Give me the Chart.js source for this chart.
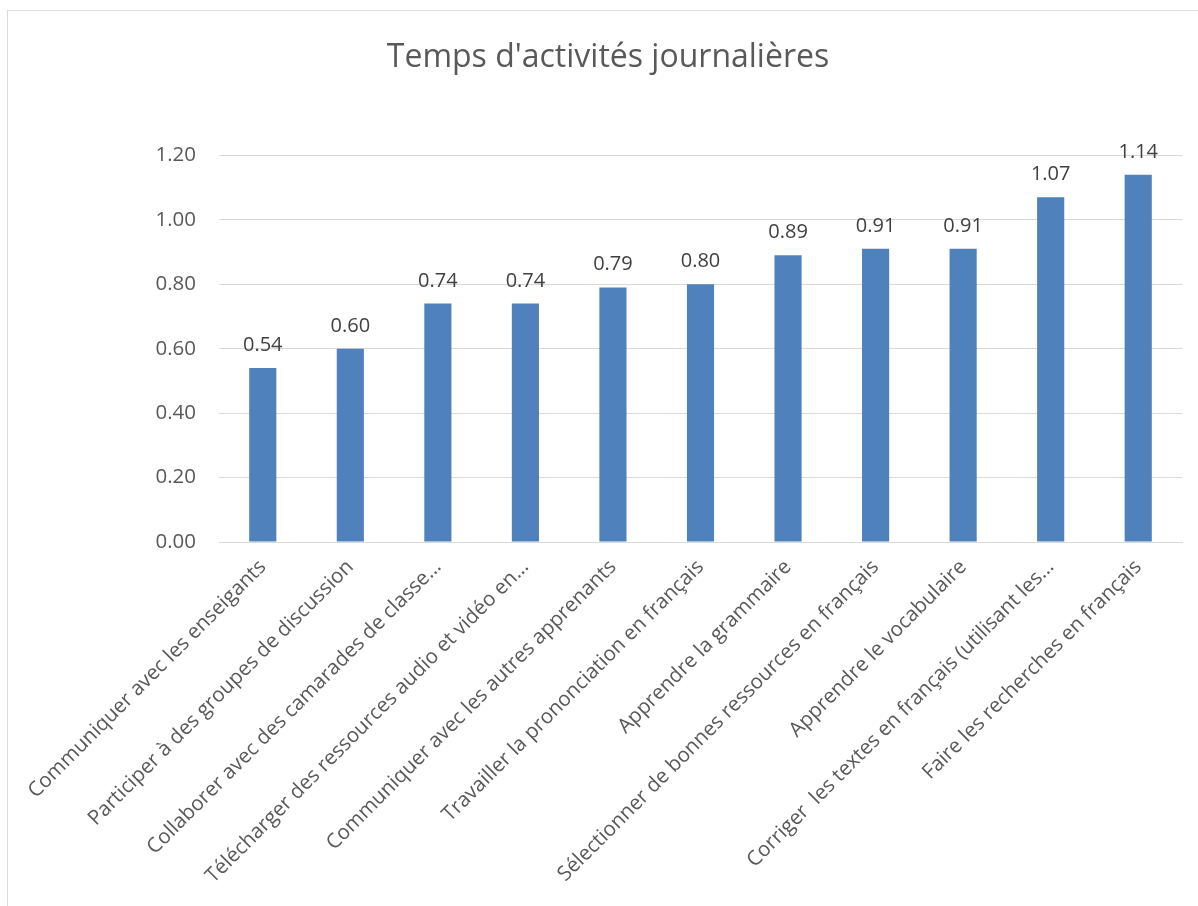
<!DOCTYPE html>
<html>
<head>
<meta charset="utf-8">
<script src="https://cdn.jsdelivr.net/npm/chart.js@4/dist/chart.umd.min.js"></script>
<style>
  html, body { margin: 0; padding: 0; background: #fff; }
  #frame { position: absolute; left: 7px; top: 10px; width: 1200px; height: 900px; border: 1px solid #d9d9d9; box-sizing: border-box; }
  #wrap { position: absolute; left: 0; top: 0; width: 1198px; height: 906px; }
</style>
</head>
<body>
<div id="frame"></div>
<div id="wrap"><canvas id="c" width="1198" height="906"></canvas></div>
<script>
const categories = [
  "Communiquer avec les enseigants",
  "Participer à des groupes de discussion",
  "Collaborer avec des camarades de classe…",
  "Télécharger des ressources audio et vidéo en…",
  "Communiquer avec les autres apprenants",
  "Travailler la prononciation en français",
  "Apprendre la grammaire",
  "Sélectionner de bonnes ressources en français",
  "Apprendre le vocabulaire",
  "Corriger  les textes en français (utilisant les…",
  "Faire les recherches en français"
];
const values = [0.54, 0.60, 0.74, 0.74, 0.79, 0.80, 0.89, 0.91, 0.91, 1.07, 1.14];
const chartTitle = "Temps d'activités journalières";

const FONT = "'Open Sans', 'DejaVu Sans', sans-serif";
const TXT = "#595959";

const valueLabels = {
  id: 'valueLabels',
  afterDatasetsDraw(chart) {
    const ctx = chart.ctx;
    const meta = chart.getDatasetMeta(0);
    ctx.save();
    ctx.font = "20px " + FONT;
    ctx.fillStyle = "#404040";
    ctx.textAlign = "center";
    ctx.textBaseline = "alphabetic";
    meta.data.forEach((bar, i) => {
      ctx.fillText(values[i].toFixed(2), bar.x, bar.y - 17);
    });
    ctx.restore();
  }
};

new Chart(document.getElementById('c'), {
  type: 'bar',
  data: {
    labels: categories,
    datasets: [{
      data: values,
      backgroundColor: '#4f81bd',
      borderWidth: 0,
      barPercentage: 0.31,
      categoryPercentage: 1.0
    }]
  },
  options: {
    responsive: false,
    animation: false,
    devicePixelRatio: 1,
    layout: { padding: { left: 34, right: 16, top: 0, bottom: 0 } },
    plugins: {
      legend: { display: false },
      tooltip: { enabled: false },
      title: {
        display: true,
        text: chartTitle,
        color: TXT,
        font: { family: FONT, size: 32, weight: 'normal' },
        padding: { top: 39, bottom: 78 }
      }
    },
    scales: {
      y: {
        min: 0,
        max: 1.2,
        afterFit: s => { s.width = 185; },
        ticks: {
          stepSize: 0.2,
          color: TXT,
          font: { family: FONT, size: 20.5 },
          padding: 23,
          callback: v => Number(v).toFixed(2)
        },
        grid: { color: '#d9d9d9', drawTicks: false, lineWidth: 1 },
        border: { display: false }
      },
      x: {
        afterFit: s => { s.height = 364; },
        ticks: {
          color: TXT,
          font: { family: FONT, size: 20.5 },
          maxRotation: 45,
          minRotation: 45,
          autoSkip: false,
          padding: 13
        },
        grid: { display: false, drawTicks: false },
        border: { display: true, color: '#d9d9d9', width: 1 }
      }
    }
  },
  plugins: [valueLabels]
});
</script>
</body>
</html>
